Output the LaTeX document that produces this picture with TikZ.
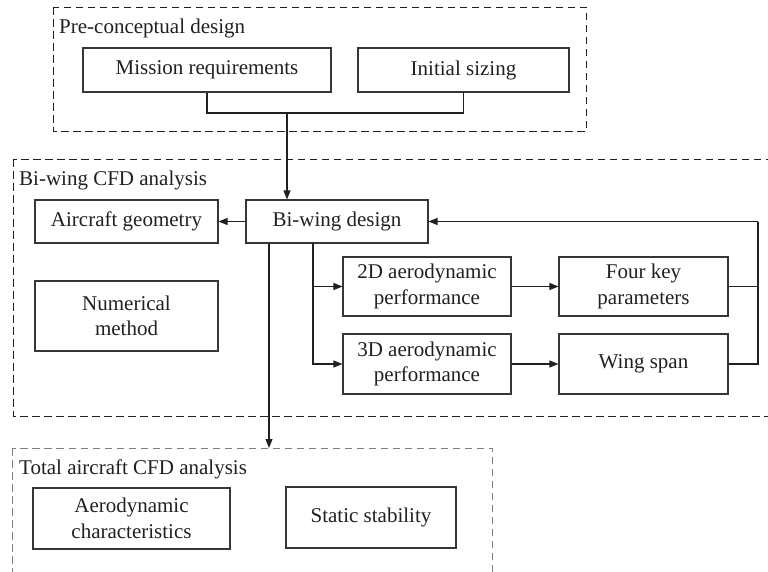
\documentclass[tikz,border=0pt]{standalone}
\usepackage{fontspec}
\setmainfont{Liberation Serif}
\usetikzlibrary{arrows.meta}
\definecolor{ink}{HTML}{231F20}
\begin{document}
\begin{tikzpicture}[x=1pt,y=-1pt,
  every node/.style={text=ink, font=\fontsize{21}{25.5}\selectfont},
  box/.style={draw=ink!90, line width=1.1pt, rectangle, align=center, inner sep=0pt},
  grp/.style={draw=ink, line width=0.9pt, dash pattern=on 7.5pt off 4.5pt},
  grpgray/.style={draw=black!50, line width=0.9pt, dash pattern=on 7.5pt off 4.5pt},
  lbl/.style={anchor=base west, inner sep=0pt},
  conn/.style={draw=ink, line width=1.1pt},
  arr/.style={conn, -{Triangle[length=9pt,width=7pt]}}]
\useasboundingbox (0,0) rectangle (768,571);
\clip (0,0) rectangle (768,571);
% group frames
\draw[grp] (53,7) rectangle (586,131);
\draw[grp] (13,159) rectangle (790,416);
\draw[grpgray] (12,448) rectangle (492,600);
\node[lbl] (lpre) at (59,33) {Pre-conceptual design};
\node[lbl] (lbw) at (19,185) {Bi-wing CFD analysis};
\node[lbl] (ltot) at (19,474) {Total aircraft CFD analysis};
% boxes
\node[box, minimum width=248pt, minimum height=44pt] (mis) at (207,70) {Mission requirements};
\node[box, minimum width=211pt, minimum height=44pt] (ini) at (463.5,70) {Initial sizing};
\node[box, minimum width=183pt, minimum height=43pt] (geo) at (126.5,221.5) {Aircraft geometry};
\node[box, minimum width=182pt, minimum height=43pt] (bwd) at (337,221.5) {Bi-wing design};
\node[box, minimum width=183pt, minimum height=70pt] (num) at (126.5,316) {Numerical\\method};
\node[box, minimum width=168pt, minimum height=59pt] (twod) at (427,286.5) {2D aerodynamic\\performance};
\node[box, minimum width=168pt, minimum height=60pt] (thrd) at (427,364) {3D aerodynamic\\performance};
\node[box, minimum width=169pt, minimum height=59pt] (fkp) at (643.5,286.5) {Four key\\parameters};
\node[box, minimum width=169pt, minimum height=60pt] (ws) at (643.5,364) {Wing span};
\node[box, minimum width=197pt, minimum height=61pt] (aero) at (131.5,518.5) {Aerodynamic\\characteristics};
\node[box, minimum width=170pt, minimum height=61pt] (stab) at (371,517.5) {Static stability};
% helper coordinates
\coordinate (j) at (287,113);
\coordinate (fb) at (758,221.5);
\coordinate (br) at (313,243);
\coordinate (dn) at (269,243);
\coordinate (tt) at (269,448);
% connectors
\draw[conn] (mis.south) |- (j) -| (ini.south);
\draw[arr] (j) -- (j |- bwd.north);
\draw[arr] (bwd.west) -- (geo.east);
\draw[arr] (br) |- (twod.west);
\draw[arr] (br) |- (thrd.west);
\draw[arr] (twod.east) -- (fkp.west);
\draw[arr] (thrd.east) -- (ws.west);
\draw[conn] (fkp.east) -| (fb);
\draw[conn] (ws.east) -| (fb);
\draw[arr] (fb) -- (bwd.east);
\draw[arr] (dn) -- (tt);
\end{tikzpicture}
\end{document}
